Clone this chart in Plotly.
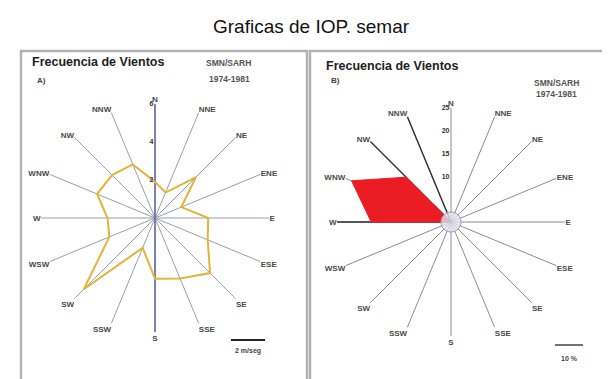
import plotly.graph_objects as go

W, H = 610, 379

# ---------------- data ----------------
directions = ["N", "NNE", "NE", "ENE", "E", "ESE", "SE", "SSE",
              "S", "SSW", "SW", "WSW", "W", "WNW", "NW", "NNW"]
# Panel A: mean wind speed (m/s) per direction
speed_a = [1.9, 1.45, 3.05, 1.5, 2.8, 3.0, 4.1, 3.45,
           3.2, 1.7, 5.3, 2.6, 2.5, 3.3, 3.2, 3.05]
# Panel B: wind frequency (%) per direction
freq_b = [0, 0, 0, 0, 0, 0, 0, 0,
          0, 0, 0, 0, 17.5, 23.6, 13.9, 0]
calm_b = [2.2] * 16
radial_ticks_a = [2, 4, 6]
radial_ticks_b = [10, 15, 20, 25]
range_a = 6
range_b = 25
dark_spokes_b = ["W", "NW", "NNW"]

FONT = "Liberation Sans Narrow, Arial Narrow, Liberation Sans, Arial, sans-serif"


def px(x):
    return x / W


def py(y):
    return 1 - y / H


fig = go.Figure()

# ---- Panel A ----
fig.add_trace(go.Scatterpolar(
    r=[range_a, 0, range_a], theta=["N", "N", "S"], mode="lines",
    line=dict(color="#6c6cae", width=1.6), subplot="polar",
    showlegend=False, hoverinfo="skip"))
fig.add_trace(go.Scatterpolar(
    r=speed_a + speed_a[:1], theta=directions + directions[:1], mode="lines",
    line=dict(color="#e2b43a", width=2), subplot="polar",
    showlegend=False, name="m/seg"))

# ---- Panel B ----
for d in dark_spokes_b:
    fig.add_trace(go.Scatterpolar(
        r=[0, range_b], theta=[d, d], mode="lines",
        line=dict(color="#333333", width=1.4), subplot="polar2",
        showlegend=False, hoverinfo="skip"))
fig.add_trace(go.Scatterpolar(
    r=freq_b + freq_b[:1], theta=directions + directions[:1], mode="lines",
    fill="toself", fillcolor="#ec1c24",
    line=dict(color="#ec1c24", width=1), subplot="polar2",
    showlegend=False, name="%"))
fig.add_trace(go.Scatterpolar(
    r=calm_b + calm_b[:1], theta=directions + directions[:1], mode="lines",
    fill="toself", fillcolor="rgba(225,225,238,0.8)",
    line=dict(color="#9a9ab4", width=1, shape="spline"), subplot="polar2",
    showlegend=False, hoverinfo="skip"))

R = 114


def polar_layout(cx, cy, rng, ticks, gridcolor):
    return dict(
        domain=dict(x=[px(cx - R), px(cx + R)], y=[py(cy + R), py(cy - R)]),
        bgcolor="white",
        angularaxis=dict(
            rotation=90, direction="clockwise", type="category",
            categoryarray=directions, showline=False, showgrid=True,
            gridcolor=gridcolor, gridwidth=1.1, ticks="",
            tickfont=dict(size=8, color="#4a4a4a", family=FONT, weight="bold")),
        radialaxis=dict(
            range=[0, rng], angle=90, tickangle=90, tickvals=ticks,
            showgrid=False, showline=False, ticks="", side="counterclockwise",
            tickfont=dict(size=7, color="#333", family=FONT, weight="bold")),
    )


fig.update_layout(
    width=W, height=H, margin=dict(l=0, r=0, t=0, b=0),
    paper_bgcolor="white", plot_bgcolor="white",
    polar=polar_layout(147, 210, range_a, radial_ticks_a, "#9c9cb0"),
    polar2=polar_layout(443, 214, range_b, radial_ticks_b, "#8c8c8c"),
    showlegend=False,
)

shapes = [
    dict(type="rect", xref="paper", yref="paper", x0=px(13), x1=px(299),
         y0=py(381), y1=py(43), line=dict(color="#b2b2b2", width=2.5)),
    dict(type="rect", xref="paper", yref="paper", x0=px(302), x1=px(603),
         y0=py(376), y1=py(43), line=dict(color="#b2b2b2", width=2.5)),
    dict(type="line", xref="paper", yref="paper", x0=px(223), x1=px(257),
         y0=py(332), y1=py(332), line=dict(color="#222", width=2)),
    dict(type="line", xref="paper", yref="paper", x0=px(547), x1=px(575),
         y0=py(337), y1=py(337), line=dict(color="#444", width=1.5)),
]
fig.update_layout(shapes=shapes)


def ann(text, x, y, size, color="#222", bold=False, family=FONT, xanchor="center"):
    fig.add_annotation(
        text=f"<b>{text}</b>" if bold else text, x=px(x), y=py(y),
        xref="paper", yref="paper", showarrow=False, xanchor=xanchor,
        yanchor="middle", font=dict(size=size, color=color, family=family))


ann("Graficas de IOP. semar", 303, 18, 19, color="#111",
    family="Liberation Sans, Arial, sans-serif")
ann("Frecuencia de Vientos", 22, 54, 12.5, bold=True, xanchor="left")
ann("Frecuencia de Vientos", 316, 58, 12.5, bold=True, xanchor="left")
ann("A)", 27, 72, 8, color="#444", bold=True, xanchor="left")
ann("B)", 321, 73, 8, color="#444", bold=True, xanchor="left")
ann("SMN/SARH", 220, 55, 8.5, color="#555", bold=True)
ann("1974-1981", 221, 71, 8.5, color="#555", bold=True)
ann("SMN/SARH", 548, 75, 8.5, color="#555", bold=True)
ann("1974-1981", 548, 86, 8.5, color="#555", bold=True)
ann("2 m/seg", 240, 343, 7, color="#444", bold=True)
ann("10 %", 561, 350, 7, color="#444", bold=True)

fig.write_html("out.html")
